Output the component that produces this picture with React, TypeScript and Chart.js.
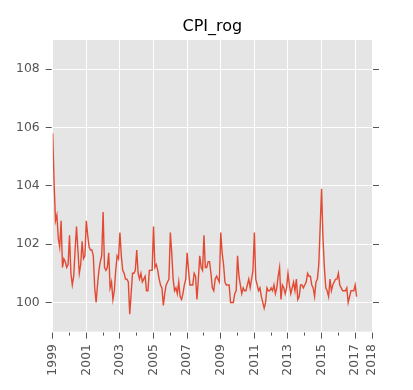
import React, { useEffect, useRef } from 'react';
import { Chart, registerables } from 'chart.js';

Chart.register(...registerables);

const TITLE = 'CPI_rog';
const START_YEAR = 1999;

// monthly values (Jan..Dec)
const v1999 = [105.8, 104.1, 102.8, 103.0, 102.2, 101.9, 102.8, 101.2, 101.5, 101.4, 101.2, 101.3];
const v2000 = [102.3, 101.0, 100.6, 100.9, 101.8, 102.6, 101.8, 101.0, 101.3, 102.1, 101.5, 101.6];
const v2001 = [102.8, 102.3, 101.9, 101.8, 101.8, 101.6, 100.5, 100.0, 100.6, 101.1, 101.4, 101.6];
const v2002 = [103.1, 101.2, 101.1, 101.2, 101.7, 100.5, 100.7, 100.1, 100.4, 101.1, 101.6, 101.5];
const v2003 = [102.4, 101.6, 101.1, 101.0, 100.8, 100.8, 100.7, 99.6, 100.3, 101.0, 101.0, 101.1];
const v2004 = [101.8, 101.0, 100.8, 101.0, 100.7, 100.8, 100.9, 100.4, 100.4, 101.1, 101.1, 101.1];
const v2005 = [102.6, 101.2, 101.3, 101.1, 100.8, 100.6, 100.5, 99.9, 100.3, 100.6, 100.7, 100.8];
const v2006 = [102.4, 101.7, 100.8, 100.4, 100.5, 100.3, 100.7, 100.2, 100.1, 100.3, 100.6, 100.8];
const v2007 = [101.7, 101.1, 100.6, 100.6, 100.6, 101.0, 100.9, 100.1, 100.8, 101.6, 101.2, 101.1];
const v2008 = [102.3, 101.2, 101.2, 101.4, 101.4, 101.0, 100.5, 100.4, 100.8, 100.9, 100.8, 100.7];
const v2009 = [102.4, 101.7, 101.3, 100.7, 100.6, 100.6, 100.6, 100.0, 100.0, 100.0, 100.3, 100.4];
const v2010 = [101.6, 100.9, 100.6, 100.3, 100.5, 100.4, 100.4, 100.6, 100.8, 100.5, 100.8, 101.1];
const v2011 = [102.4, 100.8, 100.6, 100.4, 100.5, 100.2, 100.0, 99.8, 100.0, 100.5, 100.4, 100.4];
const v2012 = [100.5, 100.4, 100.6, 100.3, 100.5, 100.9, 101.2, 100.1, 100.6, 100.5, 100.3, 100.5];
const v2013 = [101.0, 100.6, 100.3, 100.5, 100.7, 100.4, 100.8, 100.1, 100.2, 100.6, 100.6, 100.5];
const v2014 = [100.6, 100.7, 101.0, 100.9, 100.9, 100.6, 100.5, 100.2, 100.7, 100.8, 101.3, 102.6];
const v2015 = [103.9, 102.2, 101.2, 100.5, 100.4, 100.2, 100.8, 100.4, 100.6, 100.7, 100.8, 100.8];
const v2016 = [101.0, 100.6, 100.5, 100.4, 100.4, 100.4, 100.5, 100.0, 100.2, 100.4, 100.4, 100.4];
const v2017 = [100.6, 100.2];

const cpiRog = [
  ...v1999, ...v2000, ...v2001, ...v2002, ...v2003, ...v2004, ...v2005,
  ...v2006, ...v2007, ...v2008, ...v2009, ...v2010, ...v2011, ...v2012,
  ...v2013, ...v2014, ...v2015, ...v2016, ...v2017,
];

const xMajorTicks = [1999, 2001, 2003, 2005, 2007, 2009, 2011, 2013, 2015, 2017, 2018];
const xMinorTicks = [2000, 2002, 2004, 2006, 2008, 2010, 2012, 2014, 2016];
const yTicks = [100, 102, 104, 106, 108];
const X_MIN = 1999;
const X_MAX = 2018;
const Y_MIN = 99;
const Y_MAX = 109;

const FONT = 'DejaVu Sans';
const TICK_COLOR = '#555555';
const BG = '#E5E5E5';
const LINE_COLOR = '#E24A33';

const decor = {
  id: 'decor',
  beforeDraw(chart: any) {
    const { ctx, chartArea } = chart;
    ctx.save();
    ctx.fillStyle = BG;
    ctx.fillRect(chartArea.left, chartArea.top, chartArea.right - chartArea.left, chartArea.bottom - chartArea.top);
    ctx.restore();
  },
  afterDraw(chart: any) {
    const { ctx, chartArea, scales } = chart;
    ctx.save();
    ctx.strokeStyle = TICK_COLOR;
    ctx.lineWidth = 1;
    ctx.beginPath();
    for (const v of yTicks) {
      const py = Math.round(scales.y.getPixelForValue(v) - 0.5) + 0.5;
      ctx.moveTo(chartArea.left - 7, py);
      ctx.lineTo(chartArea.left - 1, py);
      ctx.moveTo(chartArea.right + 1, py);
      ctx.lineTo(chartArea.right + 7, py);
    }
    for (const v of xMajorTicks) {
      const px = Math.round(scales.x.getPixelForValue(v) - 0.5) + 0.5;
      ctx.moveTo(px, chartArea.bottom + 1);
      ctx.lineTo(px, chartArea.bottom + 7);
    }
    for (const v of xMinorTicks) {
      const px = Math.round(scales.x.getPixelForValue(v) - 0.5) + 0.5;
      ctx.moveTo(px, chartArea.bottom + 1);
      ctx.lineTo(px, chartArea.bottom + 4);
    }
    ctx.stroke();
    ctx.restore();
  },
};

export default function App() {
  const ref = useRef<HTMLCanvasElement | null>(null);

  useEffect(() => {
    if (!ref.current) return;
    const points = cpiRog.map((v, i) => ({ x: START_YEAR + i / 12, y: v }));
    const chart = new Chart(ref.current, {
      type: 'line',
      data: {
        datasets: [
          {
            label: TITLE,
            data: points,
            borderColor: LINE_COLOR,
            backgroundColor: LINE_COLOR,
            borderWidth: 1.4,
            pointRadius: 0,
            tension: 0,
            fill: false,
            clip: 0,
          },
        ],
      },
      options: {
        animation: false,
        responsive: false,
        devicePixelRatio: 1,
        layout: { padding: { left: 0, right: 41, top: 0, bottom: 0 } },
        plugins: {
          legend: { display: false },
          tooltip: { enabled: false },
          title: {
            display: true,
            text: TITLE,
            fullSize: false,
            color: '#000000',
            font: { family: FONT, size: 16, weight: 'normal', lineHeight: 1.2 },
            padding: { top: 17.5, bottom: 3.3 },
          },
        },
        scales: {
          x: {
            type: 'linear',
            min: X_MIN,
            max: X_MAX,
            afterBuildTicks: (s: any) => {
              s.ticks = xMajorTicks.map((v) => ({ value: v }));
            },
            afterFit: (s: any) => {
              s.height = 58.4;
            },
            grid: { color: '#FFFFFF', lineWidth: 1, drawTicks: false },
            border: { display: false },
            ticks: {
              autoSkip: false,
              minRotation: 90,
              maxRotation: 90,
              padding: 12.5,
              color: TICK_COLOR,
              font: { family: FONT, size: 12.4 },
              callback: (v: any) => String(v),
            },
          },
          y: {
            type: 'linear',
            min: Y_MIN,
            max: Y_MAX,
            afterBuildTicks: (s: any) => {
              s.ticks = yTicks.map((v) => ({ value: v }));
            },
            afterFit: (s: any) => {
              s.width = 52.7;
            },
            grid: { color: '#FFFFFF', lineWidth: 1, drawTicks: false },
            border: { display: false },
            ticks: {
              padding: 13,
              color: TICK_COLOR,
              font: { family: FONT, size: 12.4 },
              callback: (v: any) => String(v),
            },
          },
        },
      },
      plugins: [decor],
    });
    return () => chart.destroy();
  }, []);

  return (
    <div style={{ position: 'fixed', left: 0, top: 0, width: 413, height: 390, background: '#FFFFFF' }}>
      <canvas ref={ref} width={413} height={390} style={{ display: 'block' }} />
    </div>
  );
}
